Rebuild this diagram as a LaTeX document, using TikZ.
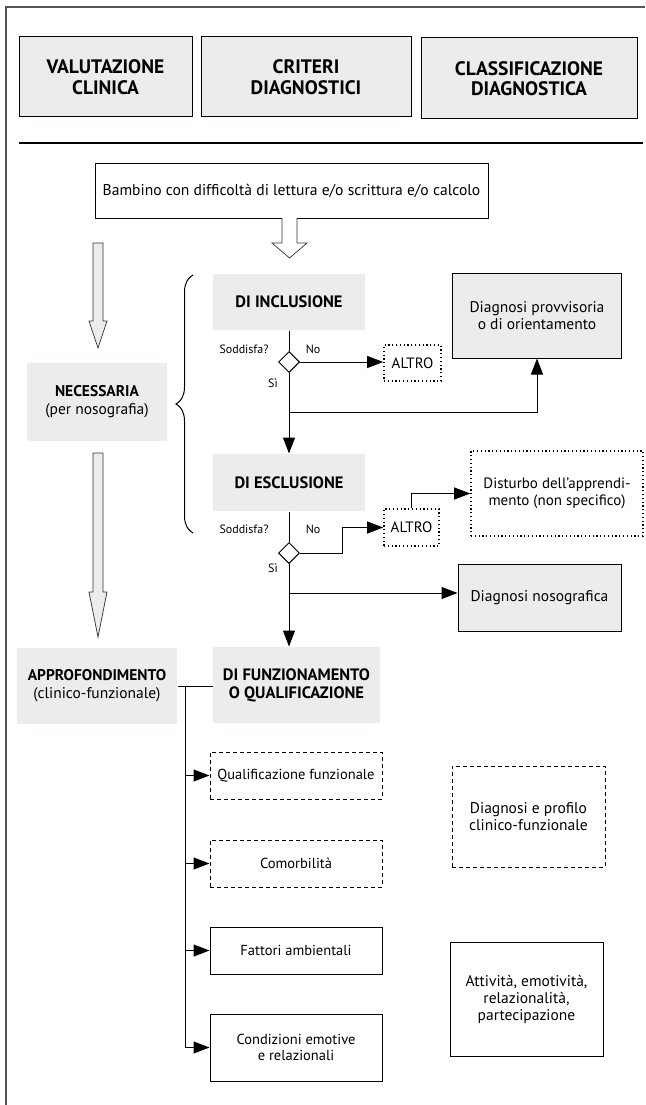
\documentclass[tikz,border=0pt]{standalone}
\usepackage{fontspec}
\setmainfont{PT Sans}
\usepackage{tikz}
\usetikzlibrary{positioning, arrows.meta, calc, shapes.geometric, decorations.pathreplacing}
\definecolor{boxgray}{HTML}{EBEDEC}
\definecolor{framegray}{HTML}{555555}

\begin{document}
\begin{tikzpicture}[
    x=1pt, y=-1pt,
    line width=1pt,
    >={Triangle[length=16pt, width=12pt]},
    head/.style={draw, fill=boxgray, align=center, font=\fontsize{19.5}{20.5}\selectfont\bfseries, minimum height=80pt, inner sep=0pt},
    crit/.style={fill=boxgray, align=center, font=\fontsize{16.5}{18}\selectfont\bfseries, inner sep=0pt},
    result/.style={draw, fill=boxgray, align=center, font=\fontsize{15.5}{17}\selectfont, inner sep=0pt},
    plain/.style={draw, align=center, font=\fontsize{14.5}{16.5}\selectfont, inner sep=0pt},
    dashbox/.style={plain, dash pattern=on 4pt off 3pt},
    dotbox/.style={draw, line width=1.6pt, dash pattern=on 1.2pt off 2.6pt, align=center, font=\fontsize{15}{17}\selectfont, inner sep=0pt},
    choice/.style={diamond, draw, fill=white, minimum size=21pt, inner sep=0pt},
    lbl/.style={font=\fontsize{12}{14}\selectfont, inner sep=0pt},
    hollow/.style={draw=black!80, line width=0.7pt},
]
\useasboundingbox (0,0) rectangle (645,1105);

% Frame
\draw[framegray, line width=2pt] (6,1105) -- (6,7) -- (645,7);

% Column headers
\node[head, minimum width=173pt] (valut) at (105.5,77) {VALUTAZIONE\\CLINICA};
\node[head, minimum width=210pt] (crit) at (306,77) {CRITERI\\DIAGNOSTICI};
\node[head, minimum width=216pt, minimum height=81pt] (classif) at (529,78.5) {CLASSIFICAZIONE\\DIAGNOSTICA};
\draw[line width=1.3pt] (19,143) -- (643,143);

% Start
\node[draw, minimum width=393pt, minimum height=55pt, font=\fontsize{15.6}{17}\selectfont] (bambino) at (291.5,190.5) {Bambino con difficoltà di lettura e/o scrittura e/o calcolo};
\draw[hollow, fill=white] (282,218) -- (282,243) -- (272,243) -- (289.5,258) -- (307,243) -- (297,243) -- (297,218);

% Valutazione clinica
\node[crit, minimum width=140pt, minimum height=78pt, font=\fontsize{15.5}{18}\selectfont] (necess) at (97,402) {\textbf{NECESSARIA}\\(per nosografia)};
\node[crit, minimum width=160pt, minimum height=76pt, font=\fontsize{15.5}{18}\selectfont] (approf) at (97,686) {\textbf{APPROFONDIMENTO}\\(clinico-funzionale)};
\draw[hollow, fill=boxgray] (93,243) -- (93,321) -- (89,321) -- (98,348) -- (107,321) -- (103,321) -- (103,243) -- cycle;
\draw[hollow, fill=boxgray] (93,453) -- (93,592) -- (89,592) -- (98,637) -- (107,592) -- (103,592) -- (103,453) -- cycle;
\draw[decorate, decoration={brace, amplitude=17pt}] (193,533) -- (193,275);

% Criteri di inclusione
\node[crit, minimum width=152pt, minimum height=56pt] (incl) at (289,302) {DI INCLUSIONE};
\node[choice] (dia1) at (289,362) {};
\node[dotbox, minimum width=57pt, minimum height=36pt] (altro1) at (412.5,363) {ALTRO};
\node[result, minimum width=169pt, minimum height=85pt] (provv) at (537,315.5) {Diagnosi provvisoria\\o di orientamento};
\coordinate (si1) at (289,412);
\node[lbl] at (244,349) {Soddisfa?};
\node[lbl] at (313,349) {No};
\node[lbl] at (273,383) {Sì};
\draw (incl) -- (dia1);
\draw[->] (dia1.east) -- (dia1.east -| altro1.west);
\draw (dia1) -- (si1);
\draw[->] (si1) -| (provv.south);

% Criteri di esclusione
\node[crit, minimum width=152pt, minimum height=57pt] (escl) at (289,482.5) {DI ESCLUSIONE};
\node[choice] (dia2) at (289,553) {};
\node[dotbox, minimum width=55pt, minimum height=37pt] (altro2) at (411.5,527.5) {ALTRO};
\node[dotbox, minimum width=172pt, minimum height=85pt] (disturbo) at (557,493.5) {Disturbo dell’apprendi-\\mento (non specifico)};
\node[result, minimum width=163pt, minimum height=67pt] (nosog) at (539.5,597.5) {Diagnosi nosografica};
\coordinate (si2) at (289,593);
\node[lbl] at (244,529) {Soddisfa?};
\node[lbl] at (313,529) {No};
\node[lbl] at (273,568) {Sì};
\draw[->] (si1) -- (escl);
\draw (escl) -- (dia2);
\draw[->] (dia2.east) -- ++(42.5,0) |- (altro2.west);
\draw[->] (altro2.north) |- (disturbo.west);
\draw (dia2) -- (si2);
\draw[->] (si2) -- (si2 -| nosog.west);

% Funzionamento
\node[crit, minimum width=167pt, minimum height=76pt] (funz) at (296.5,685) {DI FUNZIONAMENTO\\O QUALIFICAZIONE};
\draw[->] (si2) -- (si2 |- funz.north);
\draw (approf.east) -- (approf.east -| funz.west);
\coordinate (fork) at (185,686);
\node[dashbox, minimum width=172pt, minimum height=47pt] (qualif) at (296,775.5) {Qualificazione funzionale};
\node[dashbox, minimum width=172pt, minimum height=47pt] (comorb) at (296,863.5) {Comorbilità};
\node[plain, minimum width=172pt, minimum height=47pt] (fattori) at (296,950.5) {Fattori ambientali};
\node[plain, minimum width=172pt, minimum height=67pt] (condiz) at (296,1047.5) {Condizioni emotive\\e relazionali};
\draw (fork) -- (fork |- condiz.west);
\foreach \n in {qualif, comorb, fattori, condiz}
    \draw[->] (fork |- \n.west) -- (\n.west);

% Classificazione
\node[dashbox, minimum width=153pt, minimum height=101pt, font=\fontsize{15.5}{17}\selectfont] (profilo) at (528.5,816.5) {Diagnosi e profilo\\clinico-funzionale};
\node[plain, minimum width=153pt, minimum height=114pt, font=\fontsize{15.5}{17}\selectfont] (attivita) at (526.5,999) {Attività, emotività,\\relazionalità,\\partecipazione};

\end{tikzpicture}
\end{document}
